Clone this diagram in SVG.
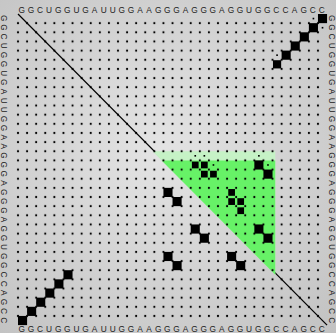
<svg xmlns="http://www.w3.org/2000/svg" width="336" height="333" viewBox="0 0 336 333">
<defs>
<radialGradient id="bg" cx="160" cy="150" r="250" gradientUnits="userSpaceOnUse">
<stop offset="0" stop-color="#e4e4e4"/>
<stop offset="1" stop-color="#c2c2c2"/>
</radialGradient>
<pattern id="dots" patternUnits="userSpaceOnUse" x="-0.5" y="-0.5" width="1" height="1">
<ellipse cx="0.5" cy="0.5" rx="0.12" ry="0.12" fill="#000"/>
</pattern>
<style>
.seq{font-family:"Liberation Sans",Arial,sans-serif;font-size:8.3px;fill:#222;text-anchor:middle}
.diag{stroke:#000;stroke-width:1.2;fill:none;vector-effect:non-scaling-stroke}
.box{fill:#000}
</style>
</defs>
<rect width="336" height="333" fill="url(#bg)"/>
<g id="plot" transform="translate(18 14) scale(9.09 9.15)">
<line class="diag" x1="0" y1="0" x2="34" y2="34"/>
<g id="gquad">
<polygon points="14.8,15 28.3,15 28.3,28.5" fill="#c6f2c6"/>
<polygon points="15.8,16 28.3,16 28.3,28.5" fill="#67f267"/>
</g>
<rect id="grid" x="-0.3" y="0.7" width="33.6" height="32.6" fill="url(#dots)"/>
<g id="upper">
<rect class="box" x="33" y="0" width="1" height="1"/>
<rect class="box" x="32" y="1" width="1" height="1"/>
<rect class="box" x="31" y="2" width="1" height="1"/>
<rect class="box" x="30" y="3" width="1" height="1"/>
<rect class="box" x="29" y="4" width="1" height="1"/>
<rect class="box" x="28.05" y="5.05" width="0.9" height="0.9"/>
<rect class="box" x="32.41" y="0.41" width="0.18" height="0.18"/>
<rect class="box" x="33.41" y="1.41" width="0.18" height="0.18"/>
<rect class="box" x="28.41" y="4.41" width="0.18" height="0.18"/>
<rect class="box" x="26" y="16" width="1" height="1"/>
<rect class="box" x="27" y="17" width="1" height="1"/>
<rect class="box" x="26" y="23" width="1" height="1"/>
<rect class="box" x="27" y="24" width="1" height="1"/>
<rect class="box" x="19.13" y="16.13" width="0.74" height="0.74"/>
<rect class="box" x="20.13" y="16.13" width="0.74" height="0.74"/>
<rect class="box" x="20.13" y="17.13" width="0.74" height="0.74"/>
<rect class="box" x="21.13" y="17.13" width="0.74" height="0.74"/>
<rect class="box" x="23.13" y="19.13" width="0.74" height="0.74"/>
<rect class="box" x="23.13" y="20.13" width="0.74" height="0.74"/>
<rect class="box" x="24.13" y="20.13" width="0.74" height="0.74"/>
<rect class="box" x="24.13" y="21.13" width="0.74" height="0.74"/>
<rect class="box" x="19.41" y="15.41" width="0.18" height="0.18"/>
<rect class="box" x="20.41" y="15.41" width="0.18" height="0.18"/>
<rect class="box" x="21.41" y="16.41" width="0.18" height="0.18"/>
<rect class="box" x="26.41" y="15.41" width="0.18" height="0.18"/>
<rect class="box" x="27.41" y="16.41" width="0.18" height="0.18"/>
</g>
<g id="lower">
<rect class="box" x="0" y="33" width="1" height="1"/>
<rect class="box" x="1" y="32" width="1" height="1"/>
<rect class="box" x="2" y="31" width="1" height="1"/>
<rect class="box" x="3" y="30" width="1" height="1"/>
<rect class="box" x="4" y="29" width="1" height="1"/>
<rect class="box" x="5" y="28" width="1" height="1"/>
<rect class="box" x="16" y="19" width="1" height="1"/>
<rect class="box" x="17" y="20" width="1" height="1"/>
<rect class="box" x="19" y="23" width="1" height="1"/>
<rect class="box" x="20" y="24" width="1" height="1"/>
<rect class="box" x="16" y="26" width="1" height="1"/>
<rect class="box" x="17" y="27" width="1" height="1"/>
<rect class="box" x="23" y="26" width="1" height="1"/>
<rect class="box" x="24" y="27" width="1" height="1"/>
</g>
</g>
<g id="sequence">
<text class="seq" y="12.6" x="21.85 30.94 40.03 49.12 58.21 67.3 76.39 85.48 94.57 103.66 112.75 121.84 130.93 140.02 149.11 158.2 167.29 176.38 185.47 194.56 203.65 212.74 221.83 230.92 240.01 249.1 258.19 267.28 276.37 285.46 294.55 303.64 312.73 321.82">GGCUGGUGAUUGGAAGGGAGGGAGGUGGCCAGCC</text>
<text class="seq" y="332.3" x="21.85 30.94 40.03 49.12 58.21 67.3 76.39 85.48 94.57 103.66 112.75 121.84 130.93 140.02 149.11 158.2 167.29 176.38 185.47 194.56 203.65 212.74 221.83 230.92 240.01 249.1 258.19 267.28 276.37 285.46 294.55 303.64 312.73 321.82">GGCUGGUGAUUGGAAGGGAGGGAGGUGGCCAGCC</text>
<text class="seq" transform="rotate(90)" y="-1" x="18.28 27.43 36.58 45.73 54.88 64.03 73.18 82.33 91.48 100.63 109.78 118.93 128.08 137.23 146.38 155.53 164.68 173.83 182.98 192.13 201.28 210.43 219.58 228.73 237.88 247.03 256.18 265.33 274.48 283.63 292.78 301.93 311.08 320.23">GGCUGGUGAUUGGAAGGGAGGGAGGUGGCCAGCC</text>
<text class="seq" transform="rotate(90)" y="-329.3" x="18.28 27.43 36.58 45.73 54.88 64.03 73.18 82.33 91.48 100.63 109.78 118.93 128.08 137.23 146.38 155.53 164.68 173.83 182.98 192.13 201.28 210.43 219.58 228.73 237.88 247.03 256.18 265.33 274.48 283.63 292.78 301.93 311.08 320.23">GGCUGGUGAUUGGAAGGGAGGGAGGUGGCCAGCC</text>
</g>
</svg>
